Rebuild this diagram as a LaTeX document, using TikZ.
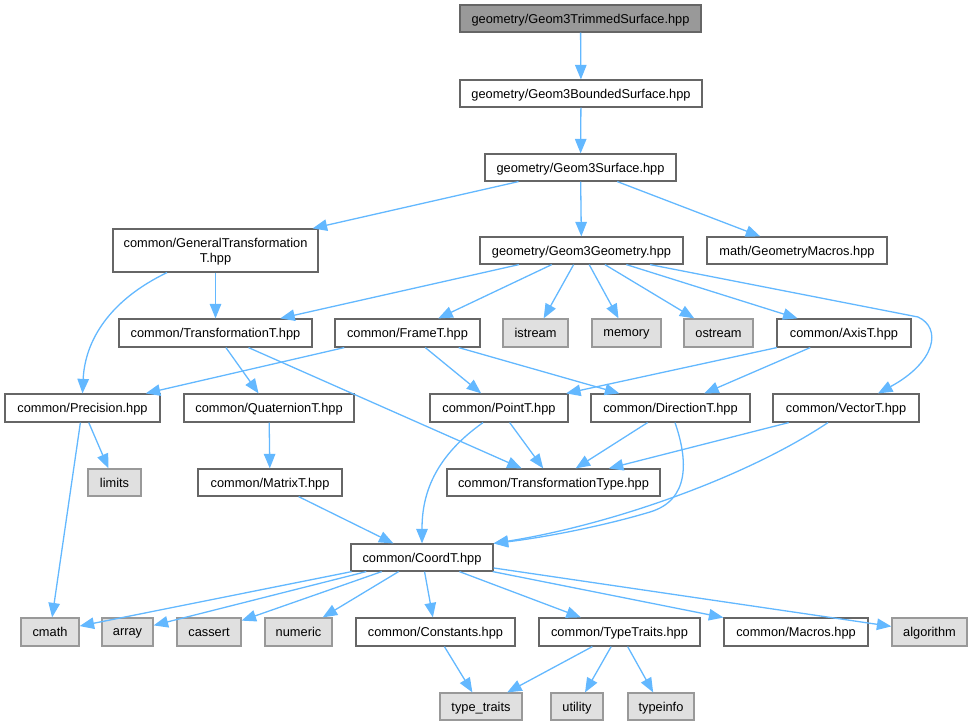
\documentclass[tikz,border=0pt]{standalone}
\usepackage{fontspec}
\setmainfont{Liberation Sans}
\usetikzlibrary{arrows.meta}
\definecolor{edgec}{HTML}{63B8FF}
\definecolor{bordc}{HTML}{666666}
\definecolor{sysbord}{HTML}{999999}
\definecolor{sysfill}{HTML}{E0E0E0}
\definecolor{rootfill}{HTML}{999999}
\begin{document}
\begin{tikzpicture}[x=1pt,y=-1pt,
  box/.style={draw=bordc, fill=white, line width=1.2pt, inner sep=0pt, align=center,
    font=\fontsize{12.8}{15}\selectfont, minimum height=27pt, text depth=0pt},
  sysbox/.style={box, draw=sysbord, fill=sysfill},
  rootbox/.style={box, fill=rootfill},
  edge/.style={draw=edgec, line width=1.3pt, -{Triangle[length=14.5pt,width=11.5pt]}}
]
\useasboundingbox (0,0) rectangle (972,725);
% nodes
\node[rootbox, minimum width=241pt] (trim) at (580.5,18.5) {geometry/Geom3TrimmedSurface.hpp};
\node[box, minimum width=242pt] (bound) at (581,93.5) {geometry/Geom3BoundedSurface.hpp};
\node[box, minimum width=191pt] (surf) at (580.5,167.5) {geometry/Geom3Surface.hpp};
\node[box, minimum width=205pt, minimum height=43pt] (gentr) at (215.5,250.5) {common/GeneralTransformation\\T.hpp};
\node[box, minimum width=203pt] (geo) at (581.5,250.5) {geometry/Geom3Geometry.hpp};
\node[box, minimum width=180pt] (gmac) at (797,250.5) {math/GeometryMacros.hpp};
\node[box, minimum width=193pt, minimum height=28pt] (trt) at (215.5,333) {common/TransformationT.hpp};
\node[box, minimum width=145pt, minimum height=28pt] (frame) at (407.5,333) {common/FrameT.hpp};
\node[sysbox, minimum width=65pt, minimum height=28pt] (istream) at (535.5,333) {istream};
\node[sysbox, minimum width=69pt, minimum height=28pt] (memory) at (626.5,333) {memory};
\node[sysbox, minimum width=69pt, minimum height=28pt] (ostream) at (718.5,333) {ostream};
\node[box, minimum width=134pt, minimum height=28pt] (axis) at (844,333) {common/AxisT.hpp};
\node[box, minimum width=155pt, minimum height=28pt] (prec) at (82.5,408) {common/Precision.hpp};
\node[box, minimum width=170pt, minimum height=28pt] (quat) at (269,408) {common/QuaternionT.hpp};
\node[box, minimum width=138pt, minimum height=28pt] (point) at (499,408) {common/PointT.hpp};
\node[box, minimum width=159pt, minimum height=28pt] (dir) at (670.5,408) {common/DirectionT.hpp};
\node[box, minimum width=146pt, minimum height=28pt] (vec) at (846,408) {common/VectorT.hpp};
\node[sysbox, minimum width=53pt] (limits) at (114.5,482.5) {limits};
\node[box, minimum width=144pt] (matrix) at (270,482.5) {common/MatrixT.hpp};
\node[box, minimum width=213pt] (ttype) at (553.5,482.5) {common/TransformationType.hpp};
\node[box, minimum width=142pt] (coord) at (422,557.5) {common/CoordT.hpp};
\node[sysbox, minimum width=58pt, minimum height=28pt] (cmath) at (50,632) {cmath};
\node[sysbox, minimum width=51pt, minimum height=28pt] (array) at (127.5,632) {array};
\node[sysbox, minimum width=64pt, minimum height=28pt] (cassert) at (209,632) {cassert};
\node[sysbox, minimum width=67pt, minimum height=28pt] (numeric) at (298.5,632) {numeric};
\node[box, minimum width=159pt, minimum height=28pt] (const) at (435.5,632) {common/Constants.hpp};
\node[box, minimum width=161pt, minimum height=28pt] (tt) at (619.5,632) {common/TypeTraits.hpp};
\node[box, minimum width=144pt, minimum height=28pt] (macros) at (796,632) {common/Macros.hpp};
\node[sysbox, minimum width=75pt, minimum height=28pt] (algo) at (929.5,632) {algorithm};
\node[sysbox, minimum width=82pt] (typetr) at (481,706.5) {type\_traits};
\node[sysbox, minimum width=52pt] (utility) at (577,706.5) {utility};
\node[sysbox, minimum width=66pt] (typeinfo) at (661,706.5) {typeinfo};
\coordinate (vbend) at (918,317);
% edges
\draw[edge] (trim) -- (bound);
\draw[edge] (bound) -- (surf);
\draw[edge] (surf) -- (gentr);
\draw[edge] (surf) -- (geo);
\draw[edge] (surf) -- (gmac);
\draw[edge] (gentr) -- (trt);
\draw[edge] ([xshift=-48.5pt]gentr.south) .. controls (110,300) and (85,340) .. (prec.north);
\draw[edge] (geo) -- (trt);
\draw[edge] (geo) -- (frame);
\draw[edge] (geo) -- (istream);
\draw[edge] (geo) -- (memory);
\draw[edge] (geo) -- (ostream);
\draw[edge] (geo) -- (axis);
\draw[edge] ([xshift=68.5pt]geo.south) -- (vbend) .. controls (942,328) and (936,362) .. ([xshift=32pt]vec.north);
\draw[edge] (trt) -- (quat);
\draw[edge] (trt) -- (ttype);
\draw[edge] (frame) -- (prec);
\draw[edge] (frame) -- (point);
\draw[edge] (frame) -- (dir);
\draw[edge] (axis) -- (point);
\draw[edge] (axis) -- (dir);
\draw[edge] (prec) -- (limits);
\draw[edge] (prec) -- (cmath);
\draw[edge] (quat) -- (matrix);
\draw[edge] (matrix) -- (coord);
\draw[edge] (point) -- (ttype);
\draw[edge] ([xshift=-16pt]point.south) .. controls (430,460) and (422,500) .. (coord.north);
\draw[edge] (dir) -- (ttype);
\draw[edge] ([xshift=4.5pt]dir.south) .. controls (688,460) and (690,500) .. (650,512) .. controls (600,527) and (540,538) .. (coord.north east);
\draw[edge] (vec) -- (ttype);
\draw[edge] ([xshift=-18pt]vec.south) .. controls (745,478) and (610,525) .. (coord.north east);
\draw[edge] (coord) -- (cmath);
\draw[edge] (coord) -- (array);
\draw[edge] (coord) -- (cassert);
\draw[edge] (coord) -- (numeric);
\draw[edge] (coord) -- (const);
\draw[edge] (coord) -- (tt);
\draw[edge] (coord) -- (macros);
\draw[edge] (coord) -- (algo);
\draw[edge] (const) -- (typetr);
\draw[edge] (tt) -- (typetr);
\draw[edge] (tt) -- (utility);
\draw[edge] (tt) -- (typeinfo);
\end{tikzpicture}
\end{document}
